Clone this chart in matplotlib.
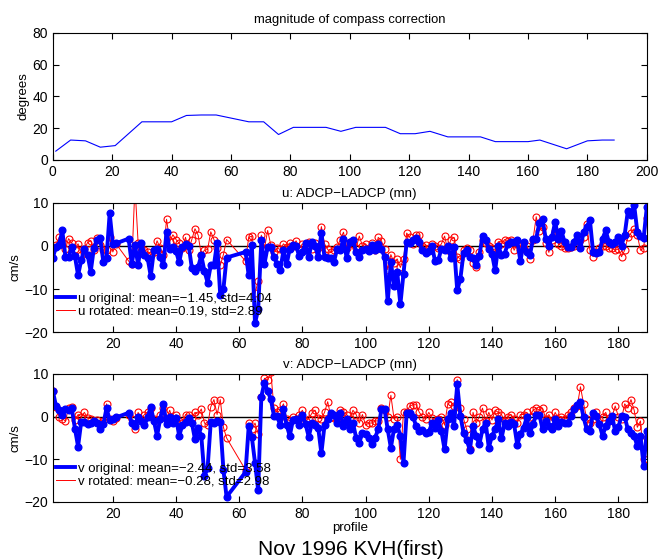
import numpy as np
import matplotlib.pyplot as plt
from matplotlib.lines import Line2D

plt.rcParams['font.family'] = ['Liberation Sans', 'DejaVu Sans']
plt.rcParams['font.size'] = 9.5

# compass correction (degrees) vs profile
corr_x = [1, 6, 11, 16, 21, 30, 40, 45, 50, 55, 66, 71, 76, 81, 92, 97, 102, 112,
          117, 122, 127, 133, 144, 149, 160, 164, 173, 180, 185, 189]
corr_deg = [5.5, 12.5, 12, 8, 9, 24, 24, 28, 28.3, 28.3, 24, 24, 16, 20.5, 20.5, 18,
            20.5, 20.5, 16.5, 16.5, 18, 14.5, 14.5, 11.5, 11.5, 12.5, 7, 12, 12.5, 12.5]

# profile numbers (22-24 and 57-61 missing)
profile = np.r_[1:22, 25:57, 62:190]

u_orig = [-2.7, -0.3, 0.3, 3.6, -2.5, -2.5, -0.3, -2.4, -6.8, -3.3, -0.6, -2.0, -6.0, -0.5,
          1.5, 1.8, -3.7, -2.8, 7.6, 0.5, 0.6,
          1.7, -4.2, 0.3, -4.4, 0.8, -2.0, -2.8, -7.0, -1.0, -0.6, -2.6, -4.4, 3.3, -0.8,
          -0.2, -1.2, -3.8, -0.2, 0.5, 0.1, -5.1, -5.9, -4.9, -2.2, -5.9, -8.5, -4.5, -4.5,
          0.8, -11.5, -10.0, -2.7,
          -1.4, -6.8, 0.2, -18.0, -14.7, 1.3, -4.1, -0.2, -0.3, -2.6, -4.1, -5.7, -1.0, -4.3,
          -0.6, 0.3, 0.1, -2.4, -1.4, 0.7, -2.6, 0.9, 0.1, -2.6, 3.0, -2.6, -2.9, -2.9, -3.7,
          -0.6, -1.0, 1.7, -2.8, 0.9, 1.5, -1.4, -2.6, -1.0, -0.6, -1.2, 0.2, -1.0, 0.5, -0.6,
          -2.6, -12.9, -3.7, -9.3, -6.0, -13.6, -6.4, 0.9, 0.8, 1.3, 1.9, 0.9, -1.0, -1.6,
          -1.2, 0.1, -3.6, -3.3, -0.6, -1.0, 0.0,
          -2.9, -0.3, -10.3, -7.6, -1.6, -1.0, -2.6, -2.8, -4.5, -2.3, 2.3, 1.3, -0.6, -1.8,
          -5.7, 0.1, -2.2, -1.8, 0.5, 0.9, 0.9, 1.3, -3.6, 0.9, -1.4, -2.2, 1.7, 1.7, 5.4, 6.2,
          1.7, 0.1, 2.1, 5.6, 1.7, 3.4, 0.9, -0.2, -0.2, 0.9, 2.6, -0.5, 3.3, 4.5, 6.0, -1.4,
          -1.6, -1.4, 1.7, 3.6, 0.9, 0.5, 0.9, 2.1, 0.1, 2.6, 8.1, 7.1, 9.5, 3.3, 2.3, 1.8, 9.0]

u_rot = [-0.5, 0.3, 2.0, 1.0, -0.6, 1.7, 0.7, -0.8, 0.5, -2.0, -0.8, 0.8, 1.2, -1.0, 1.8,
         0.3, -1.0, -0.9, 2.0, -1.4, 0.5,
         -3.5, -4.3, 14.0, 0.7, -0.4, -1.0, -1.3, -2.0, -1.3, 1.2, -0.5, -2.0, 6.2, 1.0, 2.6,
         1.5, 0.6, -0.5, 2.0, -1.0, 1.5, 4.0, 2.5, -2.0, -1.0, -0.8, 3.3, 1.5, -0.5, -4.5,
         -2.0, 1.5,
         -3.5, 2.0, 2.3, -11.0, -8.2,
         2.5, -0.5, 3.6, 0.2, -1.5, -0.5, -0.8, 0.5, -0.3, 0.7, 0.0, 1.2, -0.6, 0.5, -0.5,
         1.0, -0.8, 0.7, -0.5, 4.5, 0.5, -0.8, -1.5, -1.0, -0.3, 1.5, 3.2, -0.5, 1.0, 0.5,
         -0.5, 2.3, 0.0, 0.5, -0.5, 0.8, -1.0, 2.0, 1.2, -0.7, -5.5, -2.0, -4.0, -3.0, -5.0,
         -3.0, 3.0, 2.0, 0.5, 2.5, 2.5, 0.0, 0.3, -0.5, 0.5, 0.0, -0.5, 0.5, 2.3, -1.0,
         1.5, 2.0, -2.5, -3.0, -1.0, -0.5, -1.0, -4.0, -5.0, -1.5, 1.5, 0.8, 0.0, -0.5, -1.5,
         1.0, 0.5, 1.5, 1.2, 1.5, -1.0, 0.5, -1.0, -0.5, 0.0, -3.0, 1.5, 6.8, 3.5, 4.5,
         0.8, -1.5, 1.5, 3.5, 0.5, 0.0, -0.5, -0.5, -0.3, 0.0, 0.5, 1.5, 2.0, 5.0, -1.0,
         -2.5, -1.5, -0.5, 0.0, 0.0, -0.5, -0.5, -1.0, -0.7, -2.5, -1.0, 2.0, 3.0, 4.0, 2.5,
         -1.0, -0.5, 6.5]

v_orig = [6.1, 2.5, 1.6, 0.5, 1.8, 1.5, 2.0, -2.8, -7.0, -1.2, -1.2, -1.8, -1.4, -1.0,
          -1.5, -2.8, -1.8, 2.0, -0.8, -0.6, -0.2,
          0.9, -1.6, -2.3, 0.0, -1.0, -2.0, -0.2, 2.3, -1.0, -4.5, -0.5, 2.9, -1.8, 0.0, -1.4,
          -0.3, -4.5, -2.0, -1.2, -0.3, -1.4, -5.3, -2.6, -4.5, -14.0, -12.0, -1.2, -1.4,
          -1.1, -1.3, -12.5, -18.8,
          -13.0, -2.3, -4.8, -10.8, -17.2, 4.7, 8.0, 6.0, 4.1, 0.2, 0.1, -2.0, 1.7, -2.0,
          -4.5, -0.8, -0.6, -2.0, 0.5, -1.8, -4.7, -1.6, -2.0, -2.6, -8.6, -2.0, -0.5, 0.8,
          0.3, -1.4, 0.9, -2.2, -0.6, -3.0, -1.5, -4.9, -6.1, -3.8, -4.1, -4.9, -6.5, -4.9,
          -3.0, 1.7, 1.7, -3.0, -7.3, -2.8, -2.0, -4.5, -10.8, 0.9, 0.9, 0.0, -2.2, -3.4,
          -3.1, -3.8, -3.6, -1.6, -2.6, -0.8, -3.4, -7.7, -0.6,
          0.9, -2.2, 7.6, 0.2, -3.8, -5.5, -7.8, -2.2, -4.5, -6.5, -3.0, -1.4, -7.3, -4.5,
          -3.0, -0.6, -5.1, -1.6, -2.2, -1.2, -1.8, -6.6, -4.1, -2.6, -0.2, -3.8, -1.8, 0.5,
          0.5, -3.0, -1.0, -2.2, -3.0, -0.6, -2.2, -1.2, -1.6, -1.4, 0.2, 1.9, 2.7, 3.4,
          -0.2, -3.0, -3.4, 0.9, 0.2, -1.8, -4.5, -2.2, -1.0, 0.2, -3.4, -2.5, 0.2, 0.0,
          -3.0, -3.8, -4.5, -6.9, -4.5, -11.6, -3.4]

v_rot = [6.0, 2.3, 0.0, -0.5, -1.0, 2.0, 2.2, -0.8, 0.5, 0.0, 1.0, -0.3, -0.5, -1.0, -0.8,
         -1.5, -1.0, 3.0, -0.5, -1.0, -0.3,
         0.5, -0.5, -3.0, 1.0, -0.5, 0.5, 1.0, 2.0, -0.5, -1.0, 0.5, 2.0, -0.5, 1.5, -1.0,
         0.5, -1.0, -1.5, 0.5, 0.3, -0.3, 1.0, 0.5, 1.8, -1.5, -2.0, 2.3, 4.0, 0.5, 4.0,
         -2.5, -5.0,
         -12.5, -1.5, -3.0, -1.5, -4.0, 4.5, 9.0, 8.5, 10.5, 2.0, 1.0, 1.5, 3.0, -0.5, -1.0,
         0.0, -0.5, 0.5, 1.5, -1.0, -0.5, 0.8, 1.5, -0.3, -0.5, 1.0, 3.5, 0.0, -0.3, -0.5,
         1.5, 1.0, 0.5, -0.5, 1.5, 0.5, -1.5, 0.5, -2.0, -1.5, -1.5, -1.0, -1.0, 2.0, 1.5,
         0.0, 5.0, -0.5, 0.0, -10.0, 1.0, 1.0, 2.5, 2.8, 2.8, 1.0, 0.0, -0.5, 1.0, -0.3,
         -1.0, -0.5, 0.0, -2.0, 3.0,
         3.5, 2.5, 8.7, 2.0, -0.5, -3.0, -7.5, 1.0, -1.5, 0.0, 2.0, -1.0, 1.0, -0.8, 1.5,
         1.0, 0.5, -1.0, 0.0, 0.5, -0.5, -1.5, 0.5, 0.5, 1.0, 0.0, 1.5, 2.0, 1.5, 2.0,
         -0.5, 0.5, -1.0, 1.0, -0.5, 0.0, -0.5, 0.5, 1.0, 2.0, 2.5, 7.0, 3.0, -0.5, -1.5,
         -0.5, 1.0, -0.5, 0.0, 1.0, -1.0, 0.0, 2.5, 0.0, -0.5, 3.0, 2.0, 4.0, 1.5, -2.5,
         -1.0, -10.0, -5.0]

u_labels = ['u original: mean=\u22121.45, std=4.04', 'u rotated: mean=0.19, std=2.89']
v_labels = ['v original: mean=\u22122.44, std=3.58', 'v rotated: mean=\u22120.28, std=2.98']


def style(ax):
    ax.tick_params(direction='in', top=True, right=True, length=4, labelsize=10)
    for s in ax.spines.values():
        s.set_linewidth(0.8)


fig = plt.figure(figsize=(6.6, 5.59), dpi=100)

# top: compass correction
ax1 = fig.add_axes([0.080, 0.714, 0.900, 0.227])
ax1.plot(corr_x, corr_deg, color='b', lw=0.8)
ax1.set_xlim(0, 200)
ax1.set_ylim(0, 80)
ax1.set_xticks(np.arange(0, 201, 20))
ax1.set_yticks(np.arange(0, 81, 20))
ax1.set_ylabel('degrees', fontsize=9.5, labelpad=2)
ax1.set_title('magnitude of compass correction', fontsize=9.4, pad=7)
style(ax1)


def comp_panel(ax, orig, rot, labels, title):
    ax.axhline(0, color='k', lw=1)
    ax.plot(profile, rot, color='r', lw=0.7, marker='o', ms=5, mfc='none', mew=0.8)
    ax.plot(profile, orig, color='b', lw=2.8, marker='o', ms=4.8, mfc='b', mec='b')
    ax.set_xlim(1, 189)
    ax.set_ylim(-20, 10)
    ax.set_xticks(np.arange(20, 181, 20))
    ax.set_yticks([-20, -10, 0, 10])
    ax.set_ylabel('cm/s', fontsize=9.5, labelpad=2)
    ax.set_title(title, fontsize=9.6, pad=4)
    handles = [Line2D([], [], color='b', lw=2.8), Line2D([], [], color='r', lw=0.7)]
    ax.legend(handles, labels, loc='lower left', frameon=False, fontsize=9.5,
              handlelength=1.4, handletextpad=0.2, borderaxespad=0.3,
              borderpad=0.2, labelspacing=0.05, bbox_to_anchor=(-0.005, 0.06))
    style(ax)


ax2 = fig.add_axes([0.080, 0.406, 0.900, 0.231])
comp_panel(ax2, u_orig, u_rot, u_labels, 'u: ADCP\u2212LADCP (mn)')

ax3 = fig.add_axes([0.080, 0.102, 0.900, 0.229])
comp_panel(ax3, v_orig, v_rot, v_labels, 'v: ADCP\u2212LADCP (mn)')
ax3.set_xlabel('profile', fontsize=9.5, labelpad=1)

fig.text(0.532, 0.008, 'Nov 1996 KVH(first)', ha='center', fontsize=15)

fig.savefig('out.png', dpi=100)
